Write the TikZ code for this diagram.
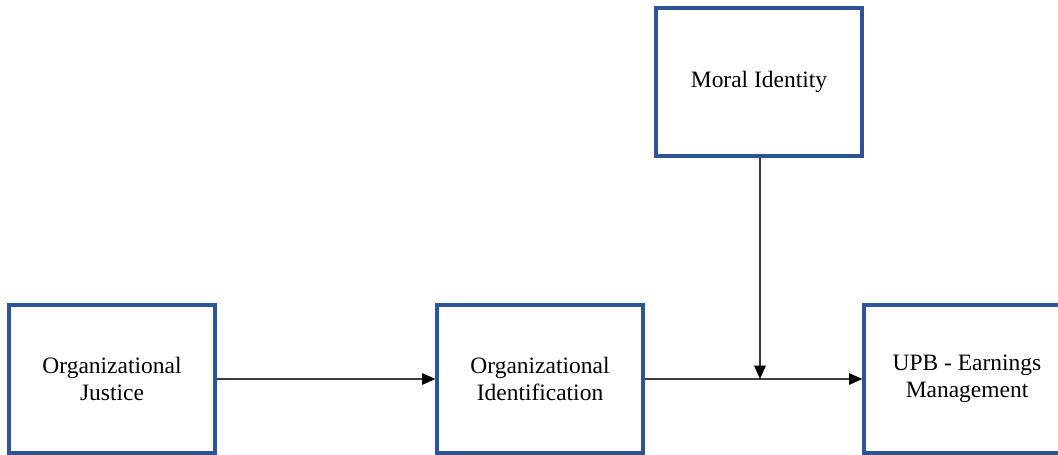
\documentclass[tikz,border=0pt]{standalone}
\usepackage{fontspec}
\setmainfont{Liberation Serif}
\usetikzlibrary{arrows.meta}
\definecolor{boxblue}{RGB}{47,84,150}
\definecolor{linegray}{RGB}{60,60,60}
\begin{document}
\begin{tikzpicture}[x=0.75pt,y=-0.75pt,
  box/.style={draw=boxblue,line width=2.4pt,minimum width=154.5pt,minimum height=111pt,inner sep=0pt,align=center,font=\fontsize{17.6}{20.4}\selectfont},
  conn/.style={draw=linegray,line width=1.4pt,-{Triangle[length=10pt,width=8.5pt,black]}}]
\useasboundingbox (0,0) rectangle (1058,454);
\clip (0,0) rectangle (1058,454);
\fill[white] (0,0) rectangle (1058,454);
\node[box] (oj) at (112,379) {Organizational\\Justice};
\node[box] (oi) at (540,379) {Organizational\\Identification};
\node[box] (upb) at (967,379) {UPB - Earnings\\Management};
\node[box] (mi) at (759,82) {Moral Identity};
\coordinate (m) at (760,379);
\draw[conn] (oj.east) -- (oi.west);
\draw[conn] (oi.east) -- (upb.west);
\draw[conn] (mi.south -| m) -- (m);
\end{tikzpicture}
\end{document}
